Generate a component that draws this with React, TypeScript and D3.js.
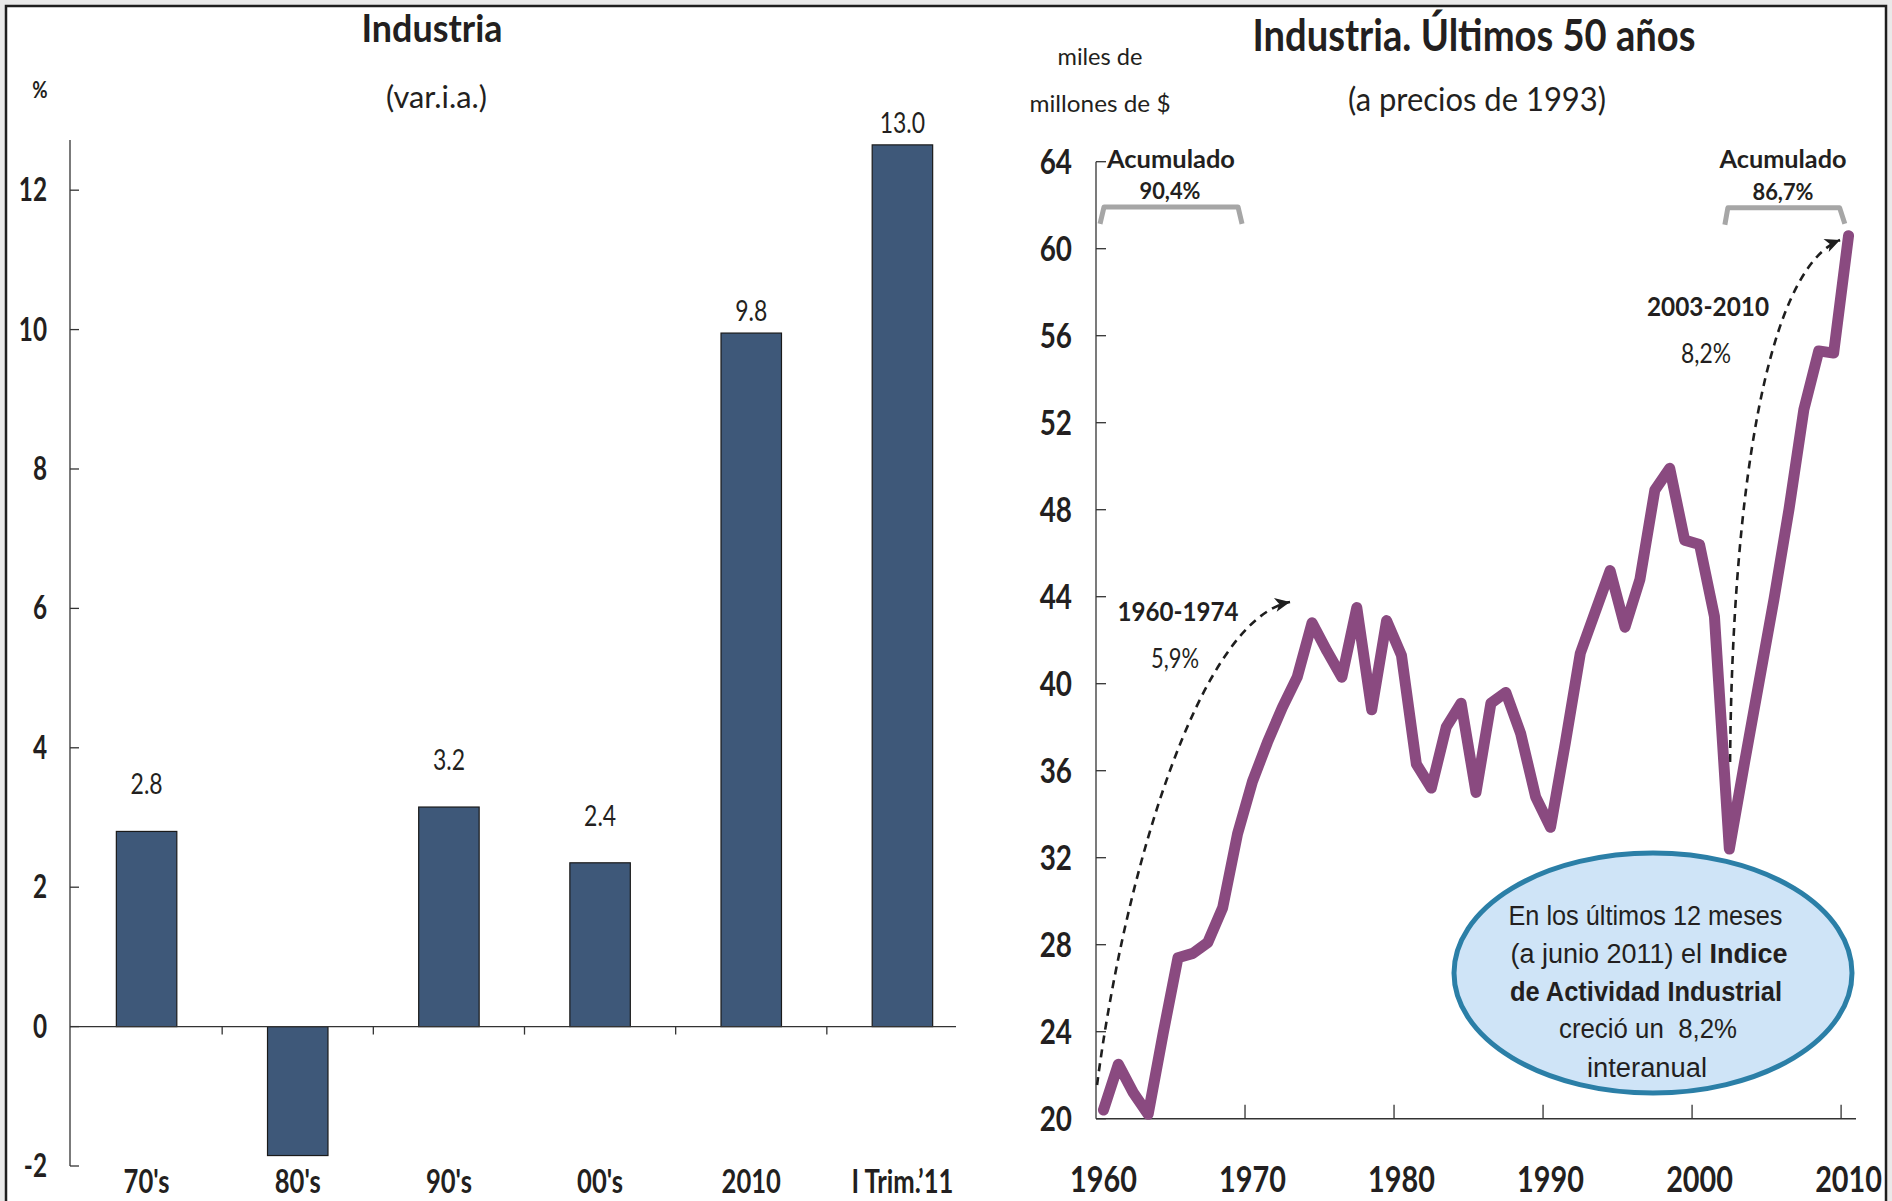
import React from "react";
import * as d3 from "d3";

// ---------- Left chart data ----------
const barCategories = ["70's", "80's", "90's", "00's", "2010", "I Trim.\u201911"];
const barValues = [2.8, -1.85, 3.15, 2.35, 9.95, 12.65];
const barLabels = ["2.8", "", "3.2", "2.4", "9.8", "13.0"];
const barTicks = [-2, 0, 2, 4, 6, 8, 10, 12];

// ---------- Right chart data ----------
const years = d3.range(1960, 2011);
const industryValues = [
  20.4, 22.5, 21.2, 20.2, 23.9, 27.4, 27.6, 28.1, 29.7, 33.1,
  35.5, 37.3, 38.9, 40.3, 42.8, 41.5, 40.3, 43.5, 38.8, 42.9,
  41.3, 36.3, 35.2, 38.0, 39.1, 35.0, 39.1, 39.6, 37.7, 34.8,
  33.4, 37.3, 41.4, 43.3, 45.2, 42.6, 44.8, 48.9, 49.9, 46.6,
  46.4, 43.1, 32.4, 36.3, 40.1, 43.9, 48.0, 52.6, 55.3, 55.2,
  60.6,
];
const lineTicksY = [20, 24, 28, 32, 36, 40, 44, 48, 52, 56, 60, 64];
const lineTicksX = [1960, 1970, 1980, 1990, 2000, 2010];

// annotation geometry in data space (year, value)
const arrow1 = [[1959.57, 21.55], [1961.45, 31.43], [1966.48, 42.93], [1972.52, 43.76]];
const arrow2 = [[2002.05, 36.4], [2002.19, 48.45], [2004.4, 59.02], [2009.43, 60.4]];
const bracket1 = [[1959.77, 61.14], [1960.04, 61.92], [1969.03, 61.92], [1969.3, 61.14]];
const bracket2 = [[2001.7, 61.1], [2001.9, 61.88], [2009.4, 61.88], [2009.75, 61.15]];

const GILL = "Lato, 'Open Sans', sans-serif";
const NARROW = "'Liberation Sans Narrow', 'Arial Narrow', 'Liberation Sans', sans-serif";
const INK = "#231F20";

function T(props: any) {
  const { x, y, size, weight = 400, anchor = "middle", w, family = GILL, children, fill = INK } = props;
  return (
    <text
      x={x}
      y={y}
      fontSize={size}
      fontWeight={weight}
      textAnchor={anchor}
      fontFamily={family}
      fill={fill}
      textLength={w}
      lengthAdjust={w ? "spacingAndGlyphs" : undefined}
    >
      {children}
    </text>
  );
}

function S(props: any) {
  // horizontally condensed text
  const { x, y, size, weight = 400, anchor = "middle", sx = 0.8, children } = props;
  return (
    <text
      transform={`translate(${x},${y}) scale(${sx},1)`}
      fontSize={size}
      fontWeight={weight}
      textAnchor={anchor}
      fontFamily={GILL}
      fill={INK}
    >
      {children}
    </text>
  );
}

export default function App() {
  // ---- left scales ----
  const xL = d3.scaleBand<string>().domain(barCategories).range([71, 978]).paddingInner(0.6).paddingOuter(0.3);
  const bandStep = xL.step();
  const yL = d3.scaleLinear().domain([-2, 12.72]).range([1166, 140]);

  // ---- right scales ----
  const xR = d3.scaleLinear().domain([1959.5, 2010.5]).range([1096, 1856]);
  const yR = d3.scaleLinear().domain([20, 64]).range([1118.7, 161.7]);

  const linePath = d3
    .line<number>()
    .x((_, i) => xR(years[i]))
    .y((d) => yR(d))(industryValues) as string;

  const bez = (pts: number[][]) => {
    const p = pts.map(([a, b]) => [xR(a), yR(b)]);
    return `M${p[0][0]},${p[0][1]} C${p[1][0]},${p[1][1]} ${p[2][0]},${p[2][1]} ${p[3][0]},${p[3][1]}`;
  };
  const poly = (pts: number[][]) =>
    d3.line<number[]>().x((d) => xR(d[0])).y((d) => yR(d[1]))(pts) as string;

  const arrowHead = (pts: number[][]) => {
    const tip = [xR(pts[3][0]), yR(pts[3][1])];
    const c = [xR(pts[2][0]), yR(pts[2][1])];
    const ang = Math.atan2(tip[1] - c[1], tip[0] - c[0]);
    const L = 15, W = 7;
    const bx = tip[0] - L * Math.cos(ang), by = tip[1] - L * Math.sin(ang);
    const nx = -Math.sin(ang), ny = Math.cos(ang);
    return `M${tip[0]},${tip[1]} L${bx + W * nx},${by + W * ny} L${bx + 4 * Math.cos(ang)},${by + 4 * Math.sin(ang)} L${bx - W * nx},${by - W * ny} Z`;
  };

  const barBoundaries = barCategories.slice(1).map((c) => (xL(c) as number) - (bandStep * xL.paddingInner()) / 2);

  return (
    <svg
      width={1892}
      height={1201}
      viewBox="0 0 1892 1201"
      style={{ position: "absolute", left: 0, top: 0, display: "block" }}
    >
      <rect x={0} y={0} width={1892} height={1201} fill="#E9E9E9" />
      <rect x={6} y={6} width={1880} height={1240} fill="#FFFFFF" stroke="#1E1E1E" strokeWidth={2.5} />

      {/* ================= LEFT CHART ================= */}
      <T x={432} y={42} size={38} weight={700} w={141}>Industria</T>
      <T x={436.5} y={108} size={31} w={101}>(var.i.a.)</T>
      <S x={40} y={98} size={22} weight={700} sx={0.85}>%</S>

      {/* y axis */}
      <line x1={70} x2={70} y1={yL(12.72)} y2={yL(-2)} stroke="#333" strokeWidth={1.3} />
      {barTicks.map((t) => (
        <g key={t}>
          <line x1={70} x2={79} y1={yL(t)} y2={yL(t)} stroke="#333" strokeWidth={1.3} />
          <S x={47} y={yL(t) + 11} size={32} weight={700} anchor="end" sx={0.76}>
            {t}
          </S>
        </g>
      ))}

      {/* bars */}
      {barValues.map((v, i) => {
        const c = barCategories[i];
        const x = xL(c) as number;
        const y0 = yL(0);
        const y1 = yL(v);
        return (
          <rect
            key={c}
            x={x}
            y={Math.min(y0, y1)}
            width={xL.bandwidth()}
            height={Math.abs(y1 - y0)}
            fill="#3E5879"
            stroke="#1A1A1A"
            strokeWidth={1.2}
          />
        );
      })}

      {/* x axis at zero */}
      <line x1={70} x2={956} y1={yL(0)} y2={yL(0)} stroke="#333" strokeWidth={1.3} />
      {barBoundaries.map((bx, i) => (
        <line key={i} x1={bx} x2={bx} y1={yL(0)} y2={yL(0) + 8} stroke="#333" strokeWidth={1.3} />
      ))}

      {/* bar labels */}
      {barValues.map((v, i) =>
        barLabels[i] ? (
          <S
            key={"l" + i}
            x={(xL(barCategories[i]) as number) + xL.bandwidth() / 2}
            y={yL(v) - (v > 5 ? 22 : 47) + 10}
            size={28}
            sx={0.82}
          >
            {barLabels[i]}
          </S>
        ) : null
      )}

      {/* category labels */}
      {barCategories.map((c) => (
        <S key={c} x={(xL(c) as number) + xL.bandwidth() / 2} y={1193} size={32} weight={700} sx={0.8}>
          {c}
        </S>
      ))}

      {/* ================= RIGHT CHART ================= */}
      <T x={1474} y={51} size={43} weight={700} w={443}>Industria. Últimos 50 años</T>
      <T x={1477} y={111} size={33} w={258}>(a precios de 1993)</T>
      <T x={1100} y={65} size={24} w={85}>miles de</T>
      <T x={1100} y={112} size={24} w={141}>millones de $</T>

      {/* axes */}
      <line x1={xR(1959.5)} x2={xR(1959.5)} y1={yR(64)} y2={yR(20)} stroke="#333" strokeWidth={1.3} />
      <line x1={xR(1959.5)} x2={xR(2010.5)} y1={yR(20)} y2={yR(20)} stroke="#333" strokeWidth={1.5} />
      {lineTicksY.map((t) => (
        <g key={t}>
          <line x1={xR(1959.5)} x2={xR(1959.5) + 10} y1={yR(t)} y2={yR(t)} stroke="#333" strokeWidth={1.3} />
          <S x={1072} y={yR(t) + 12} size={34} weight={700} anchor="end" sx={0.82}>
            {t}
          </S>
        </g>
      ))}
      {lineTicksX.slice(1).map((t) => (
        <line key={t} x1={xR(t - 0.5)} x2={xR(t - 0.5)} y1={yR(20)} y2={yR(20) - 14} stroke="#333" strokeWidth={1.3} />
      ))}
      {lineTicksX.map((t) => (
        <S key={"x" + t} x={xR(t)} y={1192} size={36} weight={700} sx={0.8}>
          {t}
        </S>
      ))}

      {/* brackets */}
      <path d={poly(bracket1)} fill="none" stroke="#A6A6A6" strokeWidth={5} strokeLinejoin="round" />
      <path d={poly(bracket2)} fill="none" stroke="#A6A6A6" strokeWidth={5} strokeLinejoin="round" />
      <T x={1171} y={168} size={24} weight={700} w={128}>Acumulado</T>
      <T x={1170} y={199} size={22} weight={700} w={61}>90,4%</T>
      <T x={1783} y={168} size={24} weight={700} w={127}>Acumulado</T>
      <T x={1783} y={200} size={22} weight={700} w={61}>86,7%</T>

      {/* dashed arrows */}
      <path d={bez(arrow1)} fill="none" stroke="#1E1E1E" strokeWidth={2.6} strokeDasharray="8 6" />
      <path d={arrowHead(arrow1)} fill="#1E1E1E" />
      <path d={bez(arrow2)} fill="none" stroke="#1E1E1E" strokeWidth={2.6} strokeDasharray="8 6" />
      <path d={arrowHead(arrow2)} fill="#1E1E1E" />

      <T x={1178} y={621} size={27} weight={700} w={121}>1960-1974</T>
      <T x={1175} y={668} size={26} w={48}>5,9%</T>
      <T x={1708} y={316} size={27} weight={700} w={122}>2003-2010</T>
      <T x={1706} y={363} size={26} w={50}>8,2%</T>

      {/* data line */}
      <path d={linePath} fill="none" stroke="#8A4A80" strokeWidth={11} strokeLinejoin="round" strokeLinecap="round" />

      {/* callout ellipse */}
      <ellipse cx={1653} cy={973} rx={199} ry={120} fill="#CFE4F7" stroke="#2B7FA7" strokeWidth={5} />
      <T x={1645.5} y={925} size={27} family={NARROW} w={274}>En los últimos 12 meses</T>
      <text x={1649} y={963} fontSize={27} fontFamily={NARROW} fill={INK} textAnchor="middle">
        <tspan>(a junio 2011) el </tspan>
        <tspan fontWeight={700}>Indice</tspan>
      </text>
      <T x={1646} y={1001} size={27} weight={700} family={NARROW} w={272}>de Actividad Industrial</T>
      <T x={1648} y={1038} size={27} family={NARROW} w={178}>{"creció un \u00A08,2%"}</T>
      <T x={1647} y={1077} size={27} family={NARROW} w={120}>interanual</T>
    </svg>
  );
}
